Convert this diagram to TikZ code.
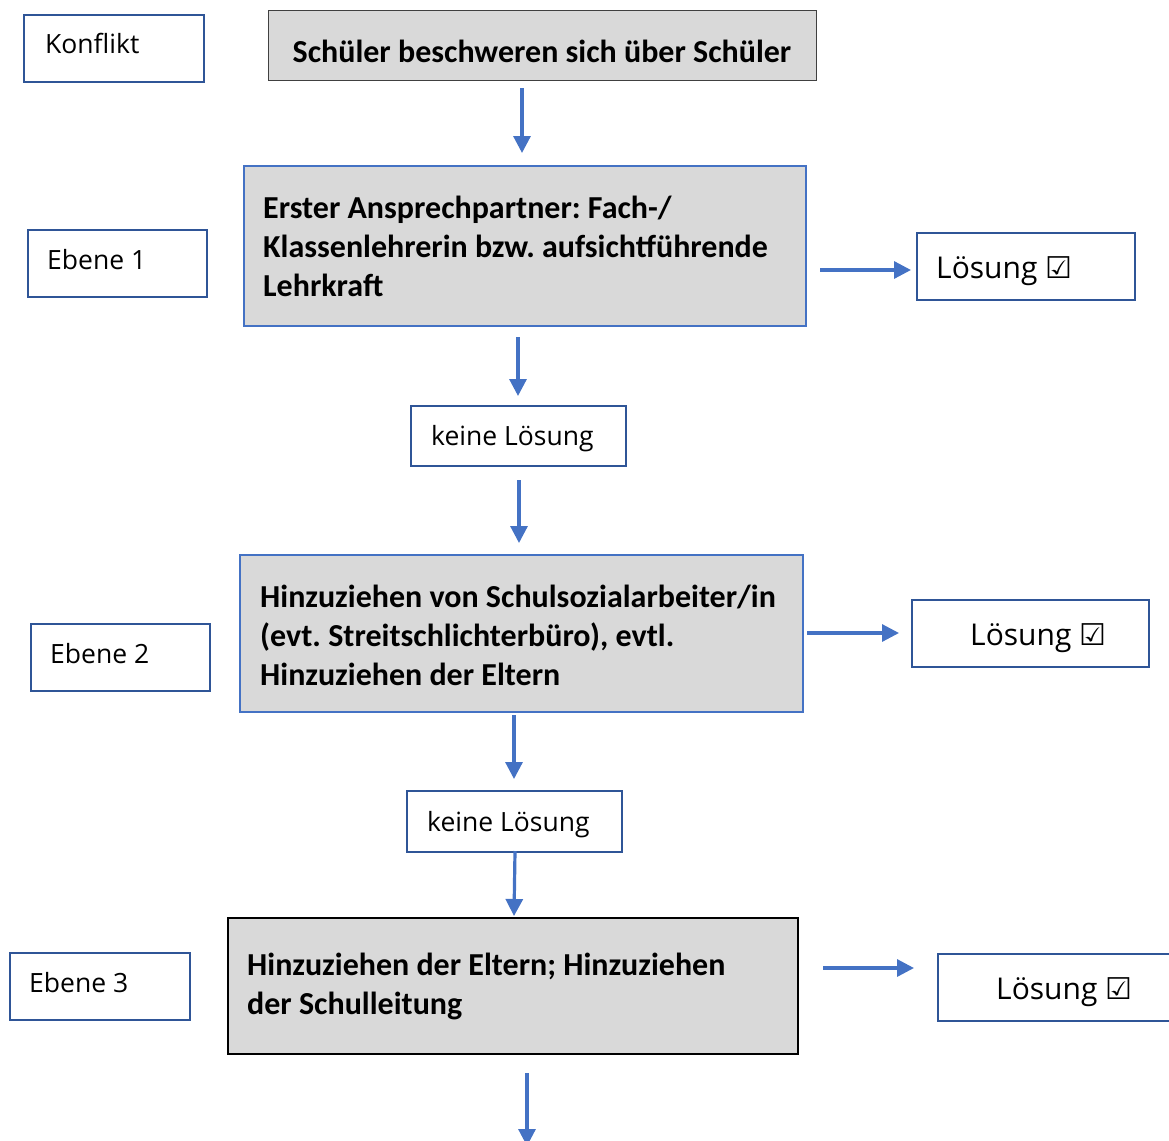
\documentclass[tikz,border=0pt]{standalone}
\usepackage{fontspec}
\setmainfont{Carlito}
\newfontfamily\comicf{Open Sans}
\newfontfamily\symf{DejaVu Sans}
\usetikzlibrary{arrows.meta}
\definecolor{lblue}{HTML}{2F5597}
\definecolor{mblue}{HTML}{4472C4}
\definecolor{boxgray}{HTML}{D9D9D9}
\frenchspacing
\tikzset{
  lbl/.style={draw=lblue, line width=1.8pt, anchor=north west, inner sep=0pt},
  lbltext/.style={anchor=base west, inner sep=0pt, font=\comicf\fontsize{26.5}{30}\selectfont},
  soltext/.style={anchor=base west, inner sep=0pt, font=\comicf\fontsize{30}{36}\selectfont},
  mainbox/.style={draw=mblue, fill=boxgray, line width=1.8pt, anchor=north west, inner sep=0pt},
  maintext/.style={anchor=base west, inner sep=0pt, align=left, font=\bfseries\fontsize{32}{39}\selectfont},
  arr/.style={draw=mblue, line width=3.2pt, -{Triangle[length=17pt,width=17pt]}},
}
\newcommand{\chk}{{\symf\fontsize{30}{30}\selectfont ☑}}
\begin{document}
\begin{tikzpicture}[x=1pt,y=-1pt]
\useasboundingbox (0,0) rectangle (1169,1140);
% top
\node[lbl, minimum width=180pt, minimum height=67pt] (konf) at (23,14) {};
\node[lbltext] (konft) at (45,53) {Konflikt};
\node[draw=black!75, fill=boxgray, line width=1.2pt, anchor=north west, minimum width=548pt, minimum height=70pt, inner sep=0pt] (top) at (268,10) {};
\node[anchor=base, font=\bfseries\fontsize{32}{39}\selectfont, inner sep=0pt] (topt) at (542,63) {Schüler beschweren sich über Schüler};
\coordinate (a1s) at (522,88); \coordinate (a1e) at (522,153);
\draw[arr] (a1s) -- (a1e);
% level 1
\node[mainbox, minimum width=562pt, minimum height=160pt] (e1) at (243,165) {};
\node[maintext] (e1t) at (263,296) {Erster Ansprechpartner: Fach-/\\Klassenlehrerin bzw. aufsichtführende\\Lehrkraft};
\node[lbl, minimum width=179pt, minimum height=67pt] (eb1) at (27,229) {};
\node[lbltext] (eb1t) at (47,269) {Ebene 1};
\node[lbl, minimum width=218pt, minimum height=67pt] (l1) at (916,232) {};
\node[soltext] (l1t) at (936,278) {Lösung \chk};
\coordinate (r1s) at (820,270); \coordinate (r1e) at (911,270);
\draw[arr] (r1s) -- (r1e);
\coordinate (d1s) at (518,337); \coordinate (d1e) at (518,396);
\draw[arr] (d1s) -- (d1e);
\node[lbl, minimum width=215pt, minimum height=60pt] (k1) at (410,405) {};
\node[lbltext] (k1t) at (431,445) {keine Lösung};
\coordinate (d2s) at (519,480); \coordinate (d2e) at (519,543);
\draw[arr] (d2s) -- (d2e);
% level 2
\node[mainbox, minimum width=563pt, minimum height=157pt] (e2) at (239,554) {};
\node[maintext] (e2t) at (260,685) {Hinzuziehen von Schulsozialarbeiter/in\\(evt. Streitschlichterbüro), evtl.\\Hinzuziehen der Eltern};
\node[lbl, minimum width=179pt, minimum height=67pt] (eb2) at (30,623) {};
\node[lbltext] (eb2t) at (50,663) {Ebene 2};
\node[lbl, minimum width=237pt, minimum height=67pt] (l2) at (911,599) {};
\node[soltext] (l2t) at (970,645) {Lösung \chk};
\coordinate (r2s) at (807,633); \coordinate (r2e) at (899,633);
\draw[arr] (r2s) -- (r2e);
\coordinate (d3s) at (514,715); \coordinate (d3e) at (514,779);
\draw[arr] (d3s) -- (d3e);
\node[lbl, minimum width=215pt, minimum height=61pt] (k2) at (406,790) {};
\node[lbltext] (k2t) at (427,831) {keine Lösung};
\coordinate (d4s) at (515,851); \coordinate (d4e) at (514,916);
\draw[arr] (d4s) -- (d4e);
% level 3
\node[draw=black, fill=boxgray, line width=1.8pt, anchor=north west, minimum width=570pt, minimum height=136pt, inner sep=0pt] (e3) at (227,917) {};
\node[maintext] (e3t) at (247,1014) {Hinzuziehen der Eltern; Hinzuziehen\\der Schulleitung};
\node[lbl, minimum width=180pt, minimum height=67pt] (eb3) at (9,952) {};
\node[lbltext] (eb3t) at (29,992) {Ebene 3};
\node[lbl, minimum width=240pt, minimum height=67pt] (l3) at (937,953) {};
\node[soltext] (l3t) at (996,999) {Lösung \chk};
\coordinate (r3s) at (823,968); \coordinate (r3e) at (914,968);
\draw[arr] (r3s) -- (r3e);
\coordinate (d5s) at (527,1073); \coordinate (d5e) at (527,1146);
\draw[arr] (d5s) -- (d5e);
\end{tikzpicture}
\end{document}
